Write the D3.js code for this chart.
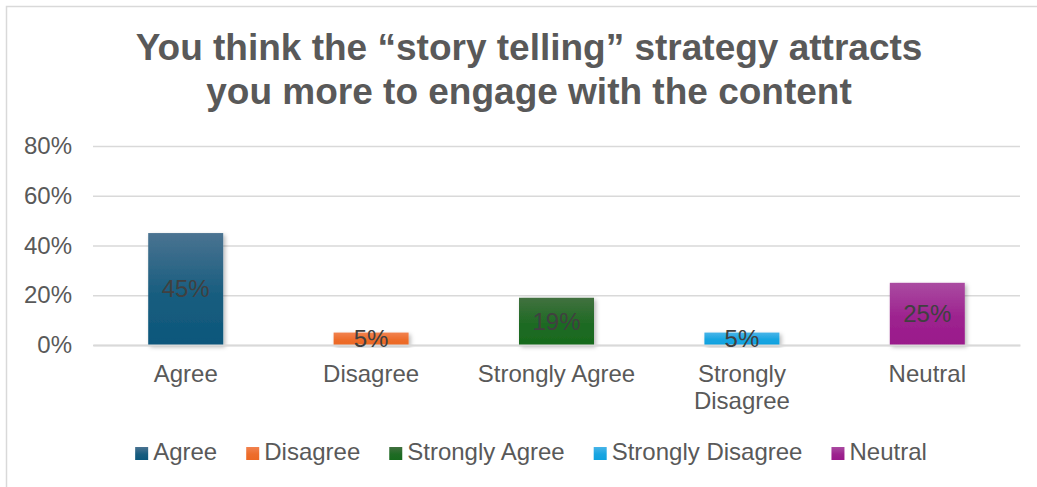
<!DOCTYPE html>
<html>
<head>
<meta charset="utf-8">
<script src="https://cdn.jsdelivr.net/npm/d3@7"></script>
<style>
  html, body { margin: 0; padding: 0; background: #ffffff; }
  svg { display: block; font-family: "Liberation Sans", Arial, sans-serif; }
</style>
</head>
<body>
<svg id="chart" width="1037" height="487"></svg>
<script>
// Survey responses
const titleLines = ["You think the \u201Cstory telling\u201D strategy attracts", "you more to engage with the content"];
const categories = ["Agree", "Disagree", "Strongly Agree", "Strongly Disagree", "Neutral"];
const shares = [0.45, 0.05, 0.19, 0.05, 0.25];
const yTicks = [0, 0.2, 0.4, 0.6, 0.8];
// [top of gradient, bottom of gradient] for each answer
const barColors = [
  ["#4a7391", "#0c577b"],
  ["#f1824f", "#ec6823"],
  ["#41703f", "#176a1d"],
  ["#47b4e8", "#0ea1df"],
  ["#aa4ba1", "#9a198b"]
];

const W = 1037, H = 487;
const plot = { left: 93, right: 1020, top: 146, bottom: 345 };
const textColor = "#595959";
const gridColor = "#d9d9d9";
const fontSize = 24;
const fontFamily = "Liberation Sans, Arial, sans-serif";

const svg = d3.select("#chart");
const defs = svg.append("defs");

// vertical gradients for bars and legend keys
barColors.forEach((c, i) => {
  const g = defs.append("linearGradient")
    .attr("id", "grad" + i).attr("x1", 0).attr("y1", 0).attr("x2", 0).attr("y2", 1);
  g.append("stop").attr("offset", "0%").attr("stop-color", c[0]);
  g.append("stop").attr("offset", "55%").attr("stop-color", d3.interpolateRgb(c[0], c[1])(0.8));
  g.append("stop").attr("offset", "100%").attr("stop-color", c[1]);
});

// soft shadow under the bars
const shadow = defs.append("filter").attr("id", "barShadow")
  .attr("x", "-20%").attr("y", "-20%").attr("width", "140%").attr("height", "140%");
shadow.append("feDropShadow")
  .attr("dx", 2).attr("dy", 2).attr("stdDeviation", 2)
  .attr("flood-color", "#000").attr("flood-opacity", 0.28);

// chart frame
svg.append("rect")
  .attr("x", 6.5).attr("y", 6.5).attr("width", W + 20).attr("height", H + 20)
  .attr("fill", "#fff").attr("stroke", gridColor).attr("stroke-width", 1.5);

// title
svg.append("text")
  .attr("text-anchor", "middle")
  .attr("fill", textColor)
  .attr("font-weight", "bold")
  .attr("font-size", 37)
  .selectAll("tspan").data(titleLines).join("tspan")
  .attr("x", 529)
  .attr("y", (d, i) => 60 + i * 44)
  .text(d => d);

// scales
const x = d3.scaleBand()
  .domain(categories)
  .range([plot.left, plot.right])
  .paddingInner(0.5955)
  .paddingOuter(0.5955 / 2);

const y = d3.scaleLinear()
  .domain([0, 0.8])
  .range([plot.bottom, plot.top]);

// value axis with gridlines
const yAxis = svg.append("g")
  .attr("transform", `translate(${plot.left},0)`)
  .call(d3.axisLeft(y)
    .tickValues(yTicks)
    .tickFormat(d3.format(".0%"))
    .tickSizeInner(-(plot.right - plot.left))
    .tickSizeOuter(0)
    .tickPadding(21));
yAxis.select(".domain").remove();
yAxis.selectAll(".tick line")
  .attr("stroke", gridColor).attr("stroke-width", 1.5);
yAxis.selectAll(".tick text")
  .attr("fill", textColor).attr("font-size", fontSize)
  .attr("font-family", fontFamily);

// bars
svg.append("g")
  .selectAll("rect")
  .data(shares)
  .join("rect")
  .attr("x", (d, i) => x(categories[i]))
  .attr("y", d => y(d))
  .attr("width", x.bandwidth())
  .attr("height", d => y(0) - y(d))
  .attr("fill", (d, i) => `url(#grad${i})`)
  .attr("filter", "url(#barShadow)");

// category axis, long names wrapped onto two lines
const xAxis = svg.append("g")
  .attr("transform", `translate(0,${plot.bottom})`)
  .call(d3.axisBottom(x).tickSize(0).tickSizeOuter(0).tickPadding(20));
xAxis.select(".domain").attr("stroke", gridColor).attr("stroke-width", 2);
xAxis.selectAll(".tick text")
  .attr("fill", textColor).attr("font-size", fontSize)
  .attr("font-family", fontFamily)
  .call(wrap, x.step() * 0.9, 26.5);

function wrap(sel, width, lineHeight) {
  sel.each(function () {
    const text = d3.select(this);
    const words = text.text().split(/\s+/);
    const y0 = +text.attr("y");
    text.text(null).attr("dy", null);
    const lines = [];
    let line = [];
    const probe = text.append("tspan");
    words.forEach(w => {
      const trial = line.concat(w);
      probe.text(trial.join(" "));
      if (probe.node().getComputedTextLength() > width && line.length) {
        lines.push(line.join(" "));
        line = [w];
      } else {
        line = trial;
      }
    });
    lines.push(line.join(" "));
    probe.remove();
    text.selectAll("tspan").data(lines).join("tspan")
      .attr("x", 0)
      .attr("y", (d, i) => y0 + 0.71 * fontSize + i * lineHeight)
      .text(d => d);
  });
}

// data labels centred on each bar
svg.append("g")
  .selectAll("text")
  .data(shares)
  .join("text")
  .attr("x", (d, i) => x(categories[i]) + x.bandwidth() / 2)
  .attr("y", d => (y(d) + y(0)) / 2)
  .attr("dy", "0.35em")
  .attr("text-anchor", "middle")
  .attr("fill", "#404040")
  .attr("font-size", fontSize)
  .text(d => d3.format(".0%")(d));

// legend
const legend = svg.append("g").attr("font-size", fontSize).attr("fill", textColor);
const items = legend.selectAll("g").data(categories).join("g");
items.append("rect")
  .attr("width", 13).attr("height", 13)
  .attr("y", -13)
  .attr("fill", (d, i) => `url(#grad${i})`);
items.append("text")
  .attr("x", 18).attr("y", 0)
  .text(d => d);
const gap = 29;
let cursor = 0;
items.each(function () {
  const g = d3.select(this);
  const tw = g.select("text").node().getComputedTextLength();
  g.attr("transform", `translate(${cursor},0)`);
  cursor += 18 + tw + gap;
});
const legendWidth = cursor - gap;
legend.attr("transform", `translate(${531 - legendWidth / 2},${460})`);
</script>
</body>
</html>
